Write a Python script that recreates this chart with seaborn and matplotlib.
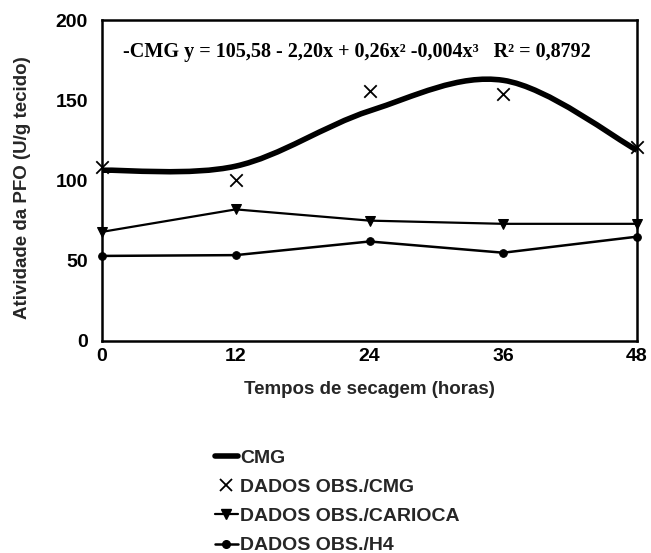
import numpy as np
import pandas as pd
import matplotlib
matplotlib.use("Agg")
import matplotlib.pyplot as plt
import seaborn as sns
from matplotlib.path import Path
from matplotlib.patches import PathPatch
from matplotlib.lines import Line2D

# Drying times (hours) and measured PFO activity (U/g tissue)
horas = [0, 12, 24, 36, 48]
obs_cmg = [108.5, 100.5, 156, 154, 121]
obs_carioca = [68, 82, 75, 73, 73]
obs_h4 = [53, 53.5, 62, 55, 65]

x_ticks = [0, 12, 24, 36, 48]
y_ticks = [0, 50, 100, 150, 200]

legend_labels = ["CMG", "DADOS OBS./CMG", "DADOS OBS./CARIOCA", "DADOS OBS./H4"]
equacao = "-CMG y = 105,58 - 2,20x + 0,26x\u00b2 -0,004x\u00b3   R\u00b2 = 0,8792"

sns.set_theme(style="white")
plt.rcParams["font.family"] = ["Liberation Sans", "DejaVu Sans"]
plt.rcParams["font.weight"] = "bold"

df = pd.DataFrame({"horas": horas, "cmg": obs_cmg,
                   "carioca": obs_carioca, "h4": obs_h4})

fig = plt.figure(figsize=(6.51, 5.53), dpi=100)
ax = fig.add_axes([0.1567, 0.3834, 0.8218, 0.5804])

# Cubic trend for CMG, drawn as a smoothed line through the fitted values
coef = np.polyfit(horas, obs_cmg, 3)
fitted = np.polyval(coef, horas)
pts = np.column_stack([horas, fitted])
ext = np.vstack([pts[0], pts, pts[-1]])
verts = [tuple(pts[0])]
codes = [Path.MOVETO]
for i in range(len(pts) - 1):
    p0, p1, p2, p3 = ext[i], ext[i + 1], ext[i + 2], ext[i + 3]
    c1 = p1 + (p2 - p0) / 6.0
    c2 = p2 - (p3 - p1) / 6.0
    verts += [tuple(c1), tuple(c2), tuple(p2)]
    codes += [Path.CURVE4] * 3
ax.add_patch(PathPatch(Path(verts, codes), fill=False, lw=4.0, edgecolor="black",
                       capstyle="butt", joinstyle="round", zorder=3, clip_on=False))

sns.lineplot(data=df, x="horas", y="carioca", ax=ax, color="black", lw=1.6,
             marker="v", markersize=7, markeredgecolor="black", clip_on=False, zorder=4)
sns.lineplot(data=df, x="horas", y="h4", ax=ax, color="black", lw=1.8,
             marker="o", markersize=5.5, markeredgecolor="black", clip_on=False, zorder=4)
sns.scatterplot(data=df, x="horas", y="cmg", ax=ax, marker="x", s=80,
                color="black", linewidth=1.3, clip_on=False, zorder=5)

ax.set_xlim(0, 48)
ax.set_ylim(0, 200)
ax.set_xticks(x_ticks)
ax.set_yticks(y_ticks)
ax.set_xticklabels([str(t) for t in x_ticks], fontsize=14, fontweight="bold")
ax.set_yticklabels([str(t) for t in y_ticks], fontsize=14, fontweight="bold")
ax.tick_params(axis="both", length=0, colors="black")
ax.tick_params(axis="y", pad=10)
ax.tick_params(axis="x", pad=5)

for s in ax.spines.values():
    s.set_visible(True)
    s.set_color("black")
    s.set_linewidth(1.8)

ax.set_xlabel("Tempos de secagem (horas)", fontsize=13.5, fontweight="bold")
ax.set_ylabel("Atividade da PFO (U/g tecido)", fontsize=13.5, fontweight="bold")
ax.xaxis.set_label_coords(0.5, -0.125)
ax.yaxis.set_label_coords(-0.132, 0.479)

ax.text(1.9, 180, equacao, fontfamily="Liberation Serif", fontweight="bold",
        fontsize=14.5, ha="left", va="center", color="black")

handles = [
    Line2D([], [], color="black", lw=4.0),
    Line2D([], [], color="black", lw=0, marker="x", markersize=9, markeredgewidth=1.3),
    Line2D([], [], color="black", lw=1.6, marker="v", markersize=7),
    Line2D([], [], color="black", lw=1.8, marker="o", markersize=5.5),
]
fig.legend(handles, legend_labels, loc="upper left", bbox_to_anchor=(0.330, 0.188),
           frameon=False, prop={"weight": "bold", "size": 14}, handlelength=1.2,
           handletextpad=0.1, labelspacing=0.6, borderpad=0, borderaxespad=0)

fig.savefig("out.png", dpi=100)
